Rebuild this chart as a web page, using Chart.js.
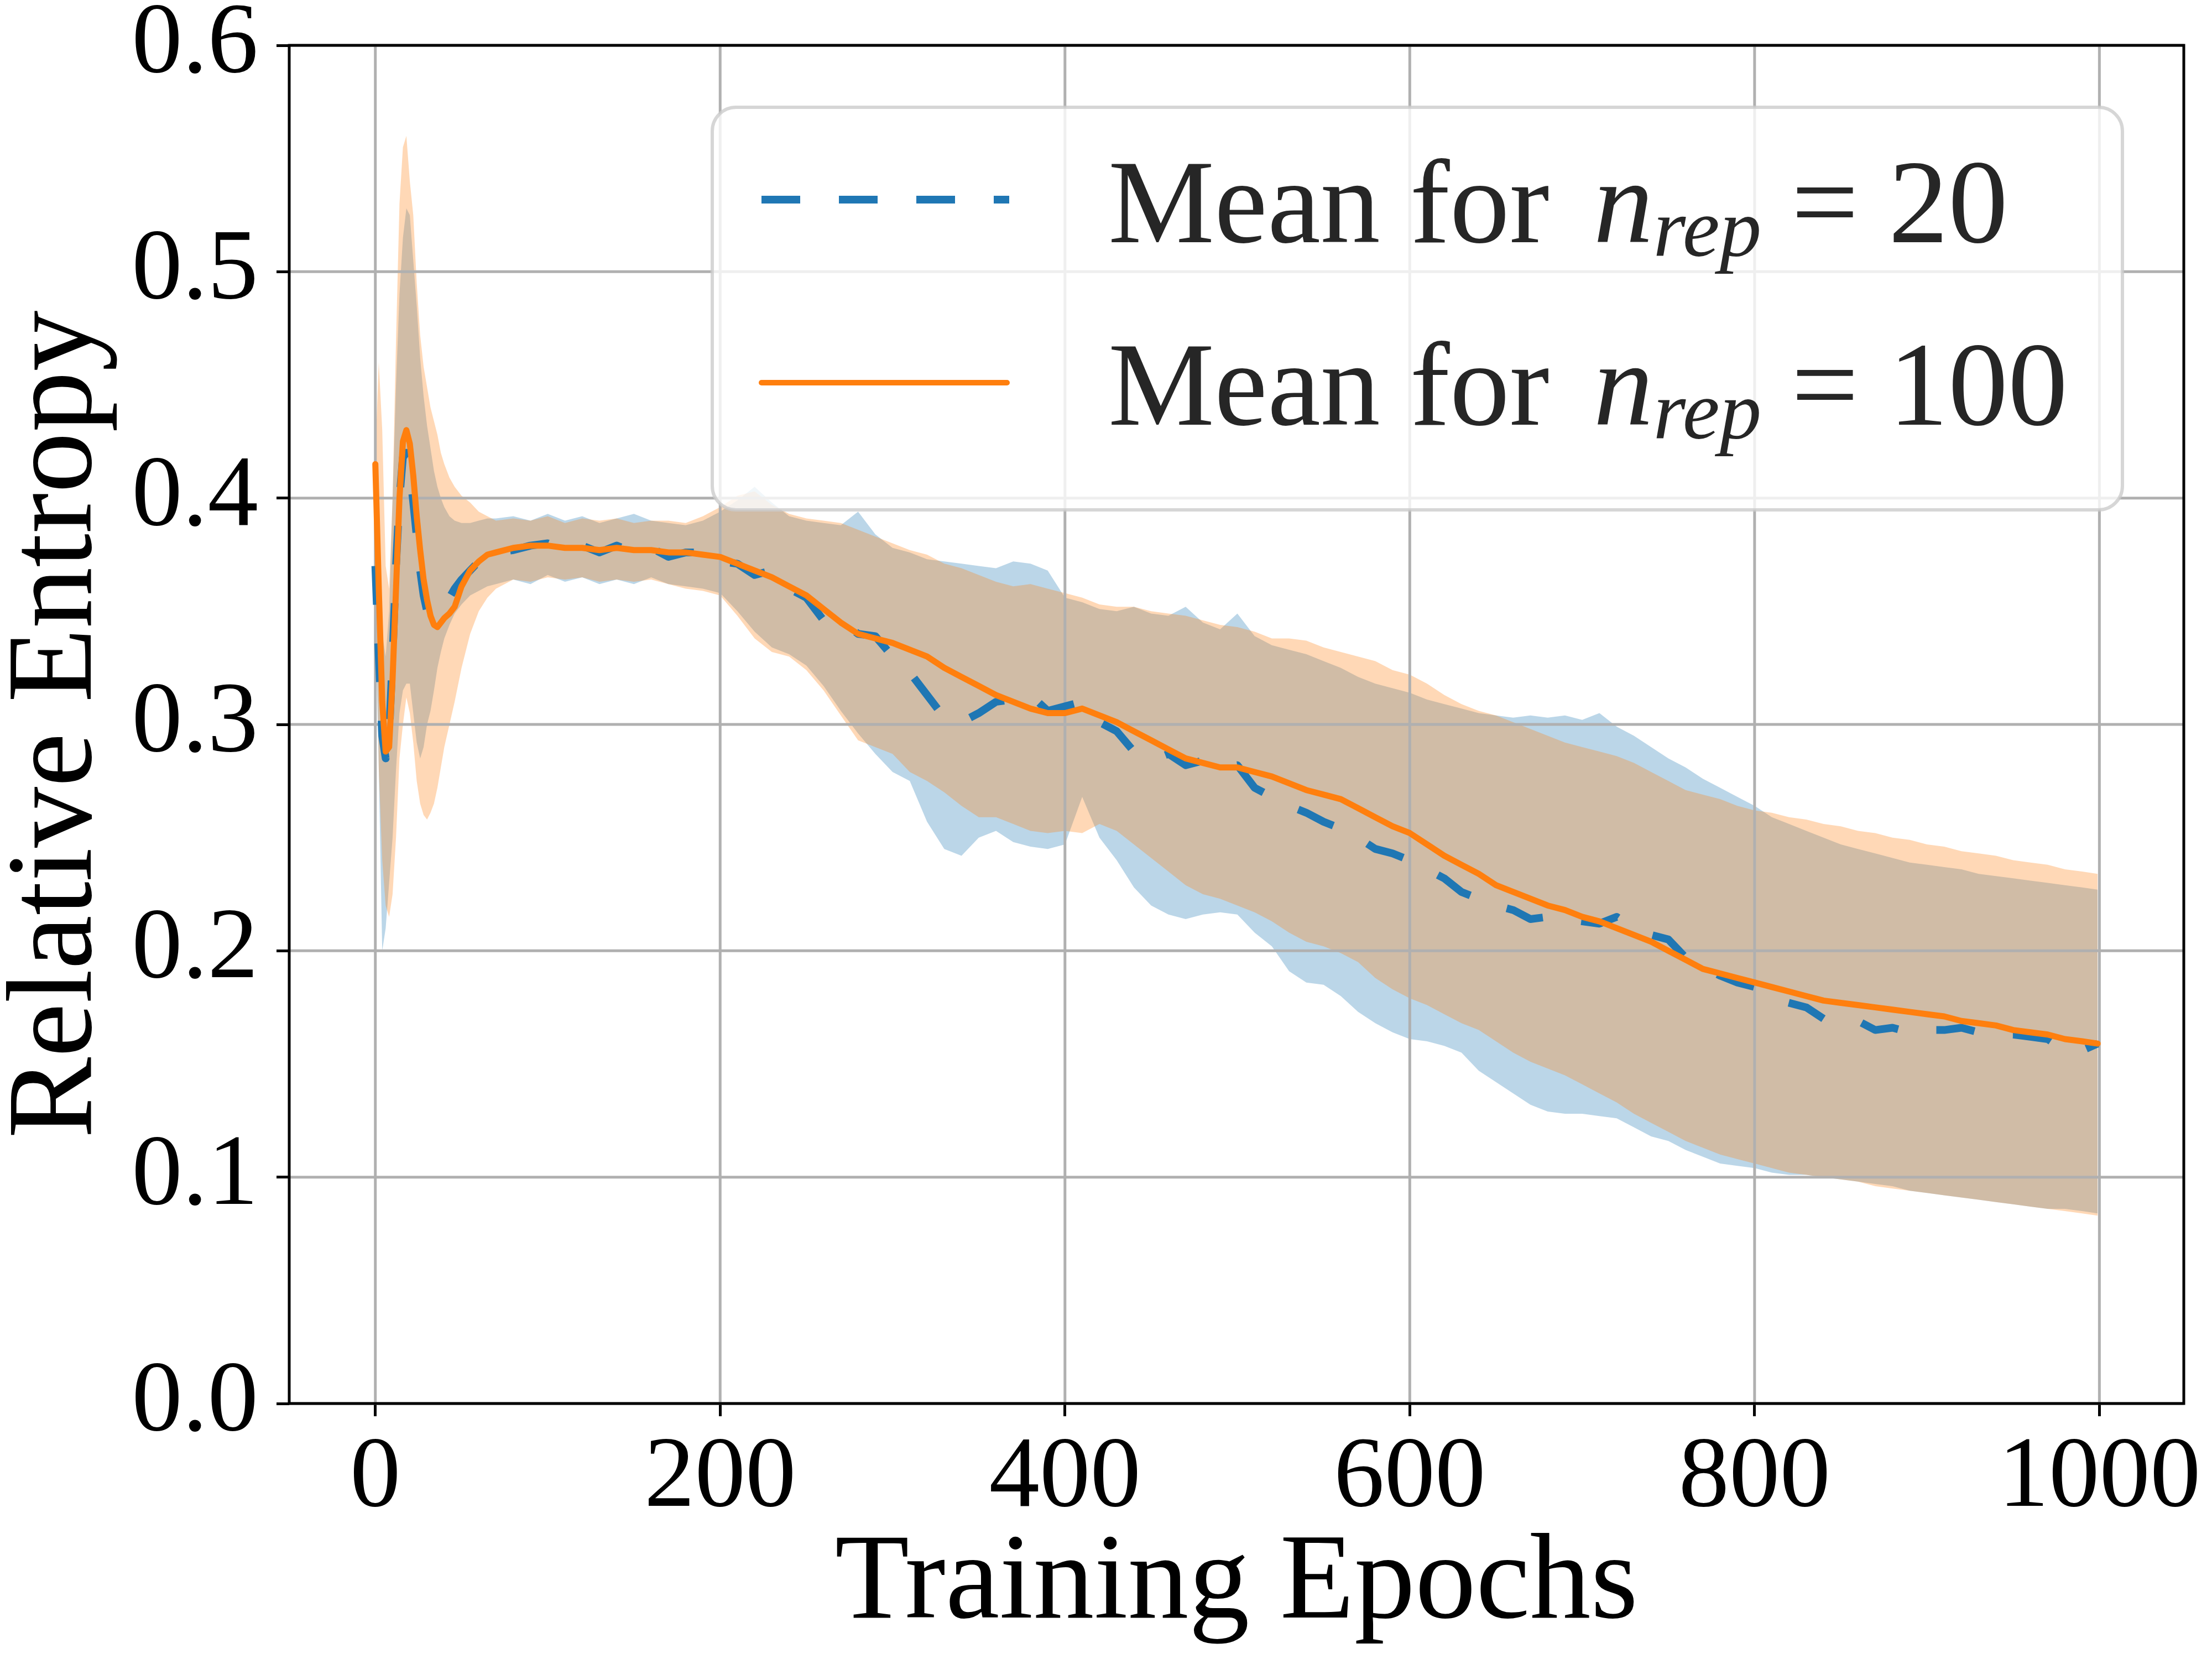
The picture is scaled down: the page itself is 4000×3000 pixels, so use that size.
<!DOCTYPE html>
<html>
<head>
<meta charset="utf-8">
<title>Relative Entropy vs Training Epochs</title>
<script src="https://cdn.jsdelivr.net/npm/chart.js@4.4.1/dist/chart.umd.min.js"></script>
<style>
    body { margin: 0; background: #ffffff; }
    #chartId { display: block; }
</style>
</head>
<body>
<canvas id="chartId" width="4000" height="3000"></canvas>
<script>
const epochs = [
    0, 2, 4, 6, 8, 10, 12, 14, 16, 18, 20, 22, 24, 26, 28, 30, 32, 34, 36, 38, 40, 43, 46, 50, 55, 60, 65,
    70, 80, 90, 100, 110, 120, 130, 140, 150, 160, 170, 180, 190,
    200, 210, 220, 230, 240, 250, 260, 270, 280, 290,
    300, 310, 320, 330, 340, 350, 360, 370, 380, 390,
    400, 410, 420, 430, 440, 450, 460, 470, 480, 490,
    500, 510, 520, 530, 540, 550, 560, 570, 580, 590,
    600, 610, 620, 630, 640, 650, 660, 670, 680, 690,
    700, 710, 720, 730, 740, 750, 760, 770, 780, 790,
    800, 810, 820, 830, 840, 850, 860, 870, 880, 890,
    900, 910, 920, 930, 940, 950, 960, 970, 980, 990,
    999
];

// mean, n_rep = 20 (blue dashed)
const mean20 = [
    0.370, 0.330, 0.295, 0.285, 0.295, 0.330, 0.370, 0.400, 0.418, 0.420, 0.412, 0.398, 0.383, 0.368, 0.357, 0.350, 0.348, 0.348, 0.349, 0.350, 0.352, 0.356, 0.360, 0.364, 0.368, 0.372, 0.374,
    0.376, 0.377, 0.379, 0.380, 0.377, 0.379, 0.376, 0.379, 0.376, 0.378, 0.374, 0.376, 0.376,
    0.372, 0.371, 0.366, 0.368, 0.360, 0.356, 0.346, 0.346, 0.340, 0.339,
    0.330, 0.323, 0.313, 0.303, 0.301, 0.305, 0.310, 0.311, 0.313, 0.306,
    0.308, 0.310, 0.301, 0.297, 0.288, 0.284, 0.287, 0.282, 0.284, 0.281,
    0.282, 0.272, 0.268, 0.264, 0.261, 0.257, 0.254, 0.250, 0.245, 0.243,
    0.240, 0.236, 0.232, 0.226, 0.223, 0.220, 0.218, 0.214, 0.215, 0.214,
    0.213, 0.212, 0.215, 0.210, 0.207, 0.205, 0.197, 0.193, 0.189, 0.186,
    0.184, 0.179, 0.177, 0.175, 0.170, 0.169, 0.169, 0.165, 0.166, 0.164,
    0.165, 0.165, 0.166, 0.164, 0.163, 0.163, 0.162, 0.161, 0.156, 0.156,
    0.159
];
const upper20 = [
    0.380, 0.370, 0.340, 0.330, 0.350, 0.400, 0.450, 0.490, 0.515, 0.528, 0.525, 0.505, 0.485, 0.462, 0.445, 0.432, 0.422, 0.412, 0.405, 0.400, 0.396, 0.392, 0.390, 0.389, 0.389, 0.390, 0.391,
    0.391, 0.392, 0.390, 0.393, 0.390, 0.392, 0.389, 0.391, 0.393, 0.390, 0.389, 0.388, 0.390,
    0.394, 0.399, 0.405, 0.398, 0.392, 0.390, 0.389, 0.388, 0.394, 0.384,
    0.378, 0.376, 0.373, 0.372, 0.371, 0.370, 0.369, 0.372, 0.371, 0.368,
    0.356, 0.354, 0.351, 0.350, 0.352, 0.349, 0.348, 0.352, 0.345, 0.342,
    0.349, 0.339, 0.335, 0.333, 0.331, 0.328, 0.325, 0.321, 0.318, 0.316,
    0.314, 0.311, 0.309, 0.307, 0.305, 0.304, 0.303, 0.304, 0.303, 0.304,
    0.302, 0.305, 0.299, 0.295, 0.290, 0.285, 0.281, 0.276, 0.272, 0.268,
    0.264, 0.259, 0.256, 0.253, 0.250, 0.247, 0.245, 0.243, 0.241, 0.239,
    0.238, 0.237, 0.236, 0.234, 0.233, 0.232, 0.231, 0.230, 0.229, 0.228,
    0.227
];
const lower20 = [
    0.350, 0.280, 0.200, 0.210, 0.230, 0.250, 0.280, 0.305, 0.315, 0.318, 0.318, 0.305, 0.292, 0.285, 0.290, 0.300, 0.306, 0.315, 0.325, 0.332, 0.338, 0.344, 0.349, 0.353, 0.357, 0.359, 0.361,
    0.362, 0.364, 0.362, 0.366, 0.363, 0.365, 0.362, 0.364, 0.362, 0.365, 0.362, 0.361, 0.360,
    0.358, 0.350, 0.341, 0.334, 0.331, 0.326, 0.317, 0.306, 0.296, 0.287,
    0.279, 0.275, 0.257, 0.245, 0.242, 0.250, 0.253, 0.248, 0.246, 0.245,
    0.247, 0.268, 0.250, 0.240, 0.228, 0.220, 0.216, 0.214, 0.216, 0.217,
    0.216, 0.208, 0.202, 0.191, 0.186, 0.185, 0.180, 0.173, 0.168, 0.164,
    0.161, 0.160, 0.158, 0.155, 0.147, 0.142, 0.137, 0.132, 0.129, 0.128,
    0.128, 0.127, 0.126, 0.122, 0.118, 0.116, 0.112, 0.109, 0.106, 0.105,
    0.104, 0.102, 0.101, 0.101, 0.100, 0.099, 0.098, 0.097, 0.096, 0.094,
    0.093, 0.092, 0.091, 0.090, 0.089, 0.088, 0.087, 0.086, 0.086, 0.085,
    0.084
];

// mean, n_rep = 100 (orange solid)
const mean100 = [
    0.415, 0.360, 0.310, 0.288, 0.290, 0.320, 0.360, 0.400, 0.425, 0.430, 0.424, 0.410, 0.392, 0.377, 0.364, 0.355, 0.348, 0.344, 0.343, 0.345, 0.347, 0.349, 0.352, 0.361, 0.368, 0.372, 0.375,
    0.376, 0.378, 0.379, 0.379, 0.378, 0.378, 0.377, 0.378, 0.377, 0.377, 0.376, 0.376, 0.375,
    0.374, 0.371, 0.368, 0.365, 0.361, 0.357, 0.351, 0.345, 0.340, 0.338,
    0.336, 0.333, 0.330, 0.325, 0.321, 0.317, 0.313, 0.310, 0.307, 0.305,
    0.305, 0.307, 0.304, 0.301, 0.297, 0.293, 0.289, 0.285, 0.283, 0.281,
    0.281, 0.279, 0.277, 0.274, 0.271, 0.269, 0.267, 0.263, 0.259, 0.255,
    0.252, 0.247, 0.242, 0.238, 0.234, 0.229, 0.226, 0.223, 0.220, 0.218,
    0.215, 0.213, 0.210, 0.207, 0.204, 0.200, 0.196, 0.192, 0.190, 0.188,
    0.186, 0.184, 0.182, 0.180, 0.178, 0.177, 0.176, 0.175, 0.174, 0.173,
    0.172, 0.171, 0.169, 0.168, 0.167, 0.165, 0.164, 0.163, 0.161, 0.160,
    0.159
];
const upper100 = [
    0.420, 0.460, 0.430, 0.370, 0.360, 0.400, 0.470, 0.530, 0.555, 0.560, 0.540, 0.525, 0.495, 0.472, 0.458, 0.449, 0.440, 0.434, 0.428, 0.420, 0.415, 0.409, 0.405, 0.401, 0.398, 0.394, 0.392,
    0.390, 0.391, 0.390, 0.392, 0.389, 0.391, 0.390, 0.391, 0.389, 0.390, 0.390, 0.389, 0.392,
    0.396, 0.401, 0.403, 0.397, 0.393, 0.391, 0.390, 0.389, 0.386, 0.383,
    0.380, 0.377, 0.375, 0.371, 0.369, 0.366, 0.363, 0.361, 0.362, 0.360,
    0.358, 0.356, 0.353, 0.352, 0.352, 0.350, 0.349, 0.348, 0.346, 0.344,
    0.343, 0.341, 0.338, 0.338, 0.337, 0.334, 0.332, 0.330, 0.328, 0.324,
    0.322, 0.318, 0.313, 0.309, 0.306, 0.304, 0.301, 0.298, 0.295, 0.292,
    0.290, 0.288, 0.286, 0.283, 0.279, 0.275, 0.271, 0.269, 0.267, 0.264,
    0.262, 0.261, 0.259, 0.258, 0.256, 0.255, 0.253, 0.252, 0.250, 0.249,
    0.247, 0.246, 0.244, 0.243, 0.242, 0.240, 0.239, 0.238, 0.236, 0.235,
    0.234
];
const lower100 = [
    0.380, 0.280, 0.240, 0.220, 0.215, 0.225, 0.250, 0.285, 0.300, 0.312, 0.305, 0.292, 0.275, 0.265, 0.260, 0.258, 0.261, 0.265, 0.272, 0.281, 0.290, 0.300, 0.310, 0.325, 0.340, 0.350, 0.356,
    0.360, 0.364, 0.363, 0.365, 0.364, 0.365, 0.363, 0.364, 0.363, 0.364, 0.362, 0.360, 0.359,
    0.357, 0.348, 0.338, 0.332, 0.330, 0.324, 0.315, 0.304, 0.293, 0.290,
    0.287, 0.279, 0.275, 0.270, 0.264, 0.259, 0.259, 0.256, 0.253, 0.252,
    0.253, 0.252, 0.256, 0.253, 0.247, 0.241, 0.235, 0.229, 0.225, 0.223,
    0.220, 0.217, 0.213, 0.208, 0.204, 0.202, 0.199, 0.195, 0.188, 0.183,
    0.179, 0.176, 0.172, 0.168, 0.165, 0.160, 0.155, 0.151, 0.148, 0.145,
    0.141, 0.137, 0.133, 0.128, 0.124, 0.120, 0.116, 0.113, 0.110, 0.108,
    0.106, 0.104, 0.102, 0.101, 0.100, 0.099, 0.098, 0.096, 0.095, 0.094,
    0.093, 0.092, 0.091, 0.090, 0.089, 0.088, 0.087, 0.086, 0.085, 0.084,
    0.083
];

const xTicks = [0, 200, 400, 600, 800, 1000];
const yTicks = [0.0, 0.1, 0.2, 0.3, 0.4, 0.5, 0.6];
const repCounts = ["20", "100"];

const serif = "'Liberation Serif', 'Times New Roman', serif";
const blue = '#1f77b4';
const orange = '#ff7f0e';

function points(values) {
    return epochs.map((e, i) => ({ x: e, y: values[i] }));
}

// matplotlib puts the grid above the fill_between patches but below the lines
const gridBelowLines = {
    id: 'gridBelowLines',
    beforeDatasetsDraw(chart) {
        const { ctx, chartArea, scales } = chart;
        ctx.save();
        ctx.strokeStyle = '#b0b0b0';
        ctx.lineWidth = 5;
        xTicks.forEach(v => {
            const px = scales.x.getPixelForValue(v);
            ctx.beginPath();
            ctx.moveTo(px, chartArea.top);
            ctx.lineTo(px, chartArea.bottom);
            ctx.stroke();
        });
        yTicks.forEach(v => {
            const py = scales.y.getPixelForValue(v);
            ctx.beginPath();
            ctx.moveTo(chartArea.left, py);
            ctx.lineTo(chartArea.right, py);
            ctx.stroke();
        });
        ctx.restore();
    }
};

const frameBox = {
    id: 'frameBox',
    afterDatasetsDraw(chart) {
        const { ctx, chartArea } = chart;
        ctx.save();
        ctx.strokeStyle = '#000';
        ctx.lineWidth = 5;
        ctx.strokeRect(chartArea.left, chartArea.top, chartArea.right - chartArea.left, chartArea.bottom - chartArea.top);
        ctx.restore();
    }
};

// legend with the n_rep subscript, which the built-in legend cannot typeset
function drawMathLabel(ctx, x, baseline, count) {
    const size = 216;
    ctx.fillStyle = '#262626';
    ctx.textBaseline = 'alphabetic';
    ctx.textAlign = 'left';
    ctx.font = `${size}px ${serif}`;
    ctx.fillText('Mean for ', x, baseline);
    x += ctx.measureText('Mean for ').width + 0.12 * size;
    ctx.font = `italic ${size}px ${serif}`;
    ctx.fillText('n', x, baseline);
    x += ctx.measureText('n').width;
    ctx.font = `italic ${Math.round(size * 0.7)}px ${serif}`;
    ctx.fillText('rep', x, baseline + 0.116 * size);
    x += ctx.measureText('rep').width + 0.25 * size;
    ctx.font = `${size}px ${serif}`;
    ctx.fillText('=', x, baseline);
    x += ctx.measureText('=').width + 0.25 * size;
    ctx.fillText(count, x, baseline);
}

const mathLegend = {
    id: 'mathLegend',
    afterDraw(chart) {
        const { ctx, chartArea } = chart;
        const w = 2550, h = 728;
        const bx = chartArea.right - 111 - w;
        const by = chartArea.top + 112;
        ctx.save();
        ctx.beginPath();
        ctx.roundRect(bx, by, w, h, 43);
        ctx.fillStyle = 'rgba(255,255,255,0.8)';
        ctx.fill();
        ctx.lineWidth = 6;
        ctx.strokeStyle = 'rgba(204,204,204,0.8)';
        ctx.stroke();

        // row 1: dashed blue
        ctx.beginPath();
        ctx.setLineDash([70, 70]);
        ctx.lineCap = 'butt';
        ctx.lineWidth = 14;
        ctx.strokeStyle = blue;
        ctx.moveTo(bx + 89, by + 167);
        ctx.lineTo(bx + 537, by + 167);
        ctx.stroke();
        drawMathLabel(ctx, bx + 716, by + 244, repCounts[0]);

        // row 2: solid orange
        ctx.beginPath();
        ctx.setLineDash([]);
        ctx.lineCap = 'round';
        ctx.lineWidth = 10;
        ctx.strokeStyle = orange;
        ctx.moveTo(bx + 89, by + 498);
        ctx.lineTo(bx + 533, by + 498);
        ctx.stroke();
        drawMathLabel(ctx, bx + 716, by + 574, repCounts[1]);
        ctx.restore();
    }
};

var chrt = document.getElementById("chartId").getContext("2d");
var chartId = new Chart(chrt, {
    type: 'line',
    data: {
        datasets: [
            {
                label: "Mean for n_rep = 100",
                data: points(mean100),
                borderColor: orange,
                borderWidth: 11,
                borderCapStyle: 'round',
                borderJoinStyle: 'round',
                fill: false,
                order: 0,
            },
            {
                label: "Mean for n_rep = 20",
                data: points(mean20),
                borderColor: blue,
                borderWidth: 14,
                borderDash: [70, 70],
                borderCapStyle: 'butt',
                borderJoinStyle: 'round',
                fill: false,
                order: 1,
            },
            {
                label: "upper 20",
                data: points(upper20),
                borderWidth: 0,
                borderColor: 'rgba(0,0,0,0)',
                backgroundColor: 'rgba(31,119,180,0.3)',
                fill: '+1',
                order: 3,
            },
            {
                label: "lower 20",
                data: points(lower20),
                borderWidth: 0,
                borderColor: 'rgba(0,0,0,0)',
                fill: false,
                order: 3,
            },
            {
                label: "upper 100",
                data: points(upper100),
                borderWidth: 0,
                borderColor: 'rgba(0,0,0,0)',
                backgroundColor: 'rgba(255,127,14,0.3)',
                fill: '+1',
                order: 2,
            },
            {
                label: "lower 100",
                data: points(lower100),
                borderWidth: 0,
                borderColor: 'rgba(0,0,0,0)',
                fill: false,
                order: 2,
            },
        ],
    },
    options: {
        responsive: false,
        devicePixelRatio: 1,
        animation: false,
        events: [],
        layout: {
            padding: { top: 82, right: 51, bottom: 0, left: 0 },
        },
        elements: {
            point: { radius: 0 },
            line: { tension: 0 },
        },
        plugins: {
            legend: { display: false },
            tooltip: { enabled: false },
            filler: { drawTime: 'beforeDatasetsDraw' },
        },
        scales: {
            x: {
                type: 'linear',
                min: -49.95,
                max: 1048.95,
                afterBuildTicks: (scale) => { scale.ticks = xTicks.map(v => ({ value: v })); },
                afterFit: (scale) => { scale.height = 462; },
                border: { display: false },
                grid: {
                    drawOnChartArea: false,
                    drawTicks: true,
                    tickLength: 23,
                    tickWidth: 5,
                    tickColor: '#000',
                },
                ticks: {
                    autoSkip: false,
                    maxRotation: 0,
                    minRotation: 0,
                    padding: 4,
                    color: '#000',
                    font: { family: serif, size: 183 },
                    callback: (v) => String(v),
                },
                title: {
                    display: true,
                    text: 'Training Epochs',
                    color: '#000',
                    font: { family: serif, size: 220, lineHeight: 0.964 },
                    padding: { top: 0, bottom: 27 },
                },
            },
            y: {
                type: 'linear',
                min: 0,
                max: 0.6,
                afterBuildTicks: (scale) => { scale.ticks = yTicks.map(v => ({ value: v })); },
                afterFit: (scale) => { scale.width = 523; },
                border: { display: false },
                grid: {
                    drawOnChartArea: false,
                    drawTicks: true,
                    tickLength: 23,
                    tickWidth: 5,
                    tickColor: '#000',
                },
                ticks: {
                    padding: 33,
                    color: '#000',
                    font: { family: serif, size: 183, lineHeight: 0.5 },
                    callback: (v) => Number(v).toFixed(1),
                },
                title: {
                    display: true,
                    text: 'Relative Entropy',
                    color: '#000',
                    font: { family: serif, size: 220, lineHeight: 0.964 },
                    padding: { top: 0, bottom: 0 },
                },
            },
        },
    },
    plugins: [gridBelowLines, frameBox, mathLegend],
});
</script>
</body>
</html>
